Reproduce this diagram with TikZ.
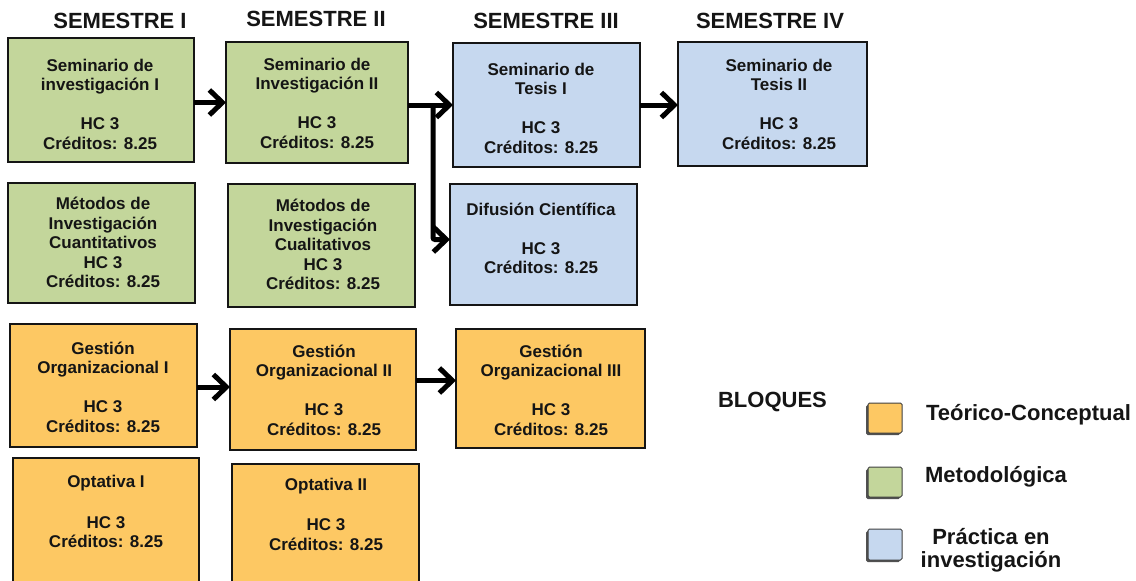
\documentclass[tikz,border=0pt]{standalone}
\usepackage{fontspec}
\setmainfont{Liberation Sans}
\usetikzlibrary{arrows.meta,calc,shadows}
\definecolor{grn}{HTML}{C3D69B}
\definecolor{blu}{HTML}{C6D8EF}
\definecolor{org}{HTML}{FDC863}
\definecolor{ink}{HTML}{151515}
\begin{document}
\begin{tikzpicture}[x=1pt,y=-1pt,
  box/.style={draw=ink, line width=1.8pt, inner sep=0pt, outer sep=0pt},
  txt/.style={font=\bfseries\fontsize{17}{19.5}\selectfont, align=center, text=ink, inner sep=0pt},
  head/.style={font=\bfseries\fontsize{22}{26}\selectfont, text=ink, inner sep=0pt, anchor=base},
  leg/.style={font=\bfseries\fontsize{22}{23}\selectfont, align=center, text=ink, inner sep=0pt},
  legbox/.style={draw=black!75, line width=1pt, rounded corners=1.5pt, minimum width=34pt, minimum height=30pt, inner sep=0pt,
    drop shadow={shadow xshift=-2pt, shadow yshift=-2pt, fill=black!80, opacity=0.85}},
  arr/.style={line width=5pt, draw=black, -{Straight Barb[length=13pt,width=25pt]}},
]
\useasboundingbox (0,0) rectangle (1136,581);

% headers
\node[head] (h1) at (120,28) {SEMESTRE I};
\node[head] (h2) at (316,26) {SEMESTRE II};
\node[head] (h3) at (546,28) {SEMESTRE III};
\node[head] (h4) at (770,28) {SEMESTRE IV};

% boxes
\node[box, fill=grn, minimum width=186pt, minimum height=124pt] (s1) at (101,100) {};
\node[box, fill=grn, minimum width=182pt, minimum height=121pt] (s2) at (317,102.5) {};
\node[box, fill=blu, minimum width=187pt, minimum height=124pt] (t1) at (546.5,105) {};
\node[box, fill=blu, minimum width=189pt, minimum height=124pt] (t2) at (772.5,104) {};
\node[box, fill=blu, minimum width=187pt, minimum height=121pt] (d) at (543.5,244.5) {};
\node[box, fill=grn, minimum width=187pt, minimum height=120pt] (m1) at (101.5,243) {};
\node[box, fill=grn, minimum width=187pt, minimum height=123pt] (m2) at (321.5,245.5) {};
\node[box, fill=org, minimum width=187pt, minimum height=123pt] (g1) at (103.5,385.5) {};
\node[box, fill=org, minimum width=186pt, minimum height=121pt] (g2) at (323,389.5) {};
\node[box, fill=org, minimum width=189pt, minimum height=119pt] (g3) at (550.5,388.5) {};
\node[box, fill=org, minimum width=186pt, minimum height=142pt] (o1) at (106,529) {};
\node[box, fill=org, minimum width=187pt, minimum height=136pt] (o2) at (325.5,532) {};

% box texts
\node[txt] (s1t) at (100,104) {Seminario de\\investigación I\\[19.5pt]HC 3\\Créditos: 8.25};
\node[txt] (s2t) at (317,103) {Seminario de\\Investigación II\\[19.5pt]HC 3\\Créditos: 8.25};
\node[txt] (t1t) at (541,108) {Seminario de\\Tesis I\\[19.5pt]HC 3\\Créditos: 8.25};
\node[txt] (t2t) at (779,104) {Seminario de\\Tesis II\\[19.5pt]HC 3\\Créditos: 8.25};
\node[txt] (dt) at (541,238.5) {Difusión Científica\\[19.5pt]HC 3\\Créditos: 8.25};
\node[txt] (m1t) at (103,242.5) {Métodos de\\Investigación\\Cuantitativos\\HC 3\\Créditos: 8.25};
\node[txt] (m2t) at (323,244.5) {Métodos de\\Investigación\\Cualitativos\\HC 3\\Créditos: 8.25};
\node[txt] (g1t) at (103,387) {Gestión\\Organizacional I\\[19.5pt]HC 3\\Créditos: 8.25};
\node[txt] (g2t) at (324,390) {Gestión\\Organizacional II\\[19.5pt]HC 3\\Créditos: 8.25};
\node[txt] (g3t) at (551,390) {Gestión\\Organizacional III\\[19.5pt]HC 3\\Créditos: 8.25};
\node[txt] (o1t) at (106,511.5) {Optativa I\\[21pt]HC 3\\Créditos: 8.25};
\node[txt] (o2t) at (326,514) {Optativa II\\[21pt]HC 3\\Créditos: 8.25};

% connectors
\coordinate (j) at (433,105);
\draw[arr] (s1.east |- s2.west) -- (s2.west);
\draw[arr] (s2.east |- t1.west) -- (t1.west);
\draw[arr, rounded corners=2pt] (j) |- ([yshift=5pt]d.west);
\draw[arr] (t1.east) -- (t1.east -| t2.west);
\draw[arr] ([yshift=-1.5pt]g1.east) -- ([yshift=-1.5pt]g1.east -| g2.west);
\draw[arr] ([yshift=9pt]g2.east) -- ([yshift=9pt]g2.east -| g3.west);

% legend
\node[head] (bl) at (772.5,407) {BLOQUES};
\node[legbox, fill=org] (lt) at (885,418) {};
\node[legbox, fill=grn] (lm) at (885,482) {};
\node[legbox, fill=blu, minimum height=31pt] (lp) at (885,544.5) {};
\node[leg, anchor=base] (ltt) at (1028.5,420) {Teórico-Conceptual};
\node[leg, anchor=base] (lmt) at (996,482) {Metodológica};
\node[leg] (lpt) at (991,550.5) {Práctica en\\investigación};
\end{tikzpicture}
\end{document}
